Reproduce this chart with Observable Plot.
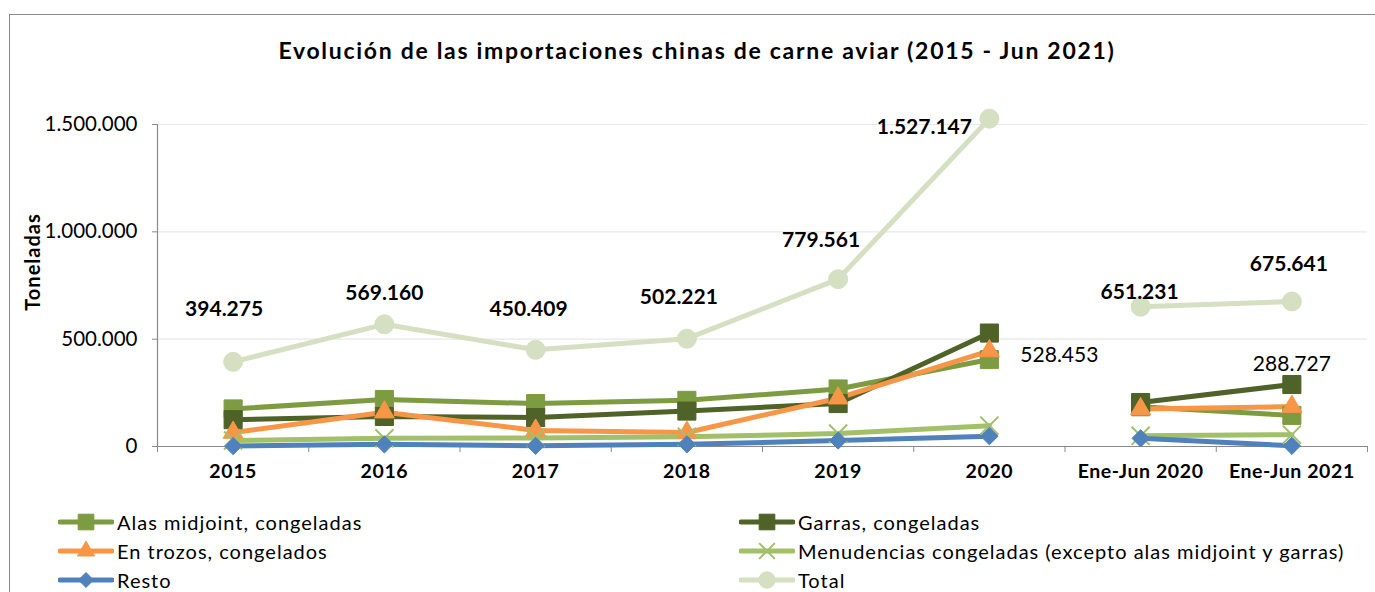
<!DOCTYPE html>
<html><head><meta charset="utf-8">
<script src="https://cdn.jsdelivr.net/npm/d3@7"></script>
<script src="https://cdn.jsdelivr.net/npm/@observablehq/plot@0.6"></script>
<style>
body{margin:0;background:#fff;font-family:Lato,"Open Sans",sans-serif;}
#wrap{position:relative;width:1375px;height:592px;overflow:hidden;background:#fff;}
#frame{position:absolute;left:9px;top:14px;width:1400px;height:620px;border-left:1px solid #8a8a8a;border-top:1px solid #8a8a8a;}
#title{position:absolute;left:0;width:1394px;top:36px;text-align:center;font-weight:bold;font-size:23px;letter-spacing:1.7px;color:#000;}
#ylabel{position:absolute;left:32px;top:262px;transform:translate(-50%,-50%) rotate(-90deg);font-weight:bold;font-size:20px;letter-spacing:1px;white-space:nowrap;}
#chart{position:absolute;left:0;top:90px;}
.leg{position:absolute;display:flex;align-items:center;font-size:20px;letter-spacing:1px;white-space:nowrap;height:24px;}
.leg svg{margin-right:3px;}
g[aria-label="x-axis tick label"]{letter-spacing:0.6px;}
</style></head>
<body>
<div id="wrap">
  <div id="frame"></div>
  <div id="title">Evolución de las importaciones chinas de carne aviar (2015 - Jun 2021)</div>
  <div id="ylabel">Toneladas</div>
  <div id="chart"></div>
  <div id="legend"></div>
</div>
<script>
const categories = ["2015","2016","2017","2018","2019","2020","Ene-Jun 2020","Ene-Jun 2021"];
const periods = ["anual","anual","anual","anual","anual","anual","semestral","semestral"];
const alas = [175000, 219000, 200000, 215000, 268000, 405000, 185000, 145000];
const garras = [125000, 140000, 135000, 165000, 200000, 528453, 205000, 288727];
const trozos = [65000, 160000, 75000, 65000, 225000, 445000, 175000, 186000];
const menudencias = [28000, 38000, 40000, 45000, 60000, 97000, 50000, 55000];
const resto = [2000, 10000, 3000, 10000, 28000, 48000, 38000, 3000];
const total = [394275, 569160, 450409, 502221, 779561, 1527147, 651231, 675641];
const yTicks = [0, 500000, 1000000, 1500000];

const seriesNames = ["Alas midjoint, congeladas","Garras, congeladas","En trozos, congelados","Menudencias congeladas (excepto alas midjoint y garras)","Resto","Total"];
const seriesValues = [alas, garras, trozos, menudencias, resto, total];

const styles = {
  "Alas midjoint, congeladas": {color:"#7d9c42", symbol:"square", r:10.2, fill:true},
  "Garras, congeladas": {color:"#4f6228", symbol:"square", r:10.2, fill:true},
  "En trozos, congelados": {color:"#f79646", symbol:"triangle", r:7.4, fill:true},
  "Menudencias congeladas (excepto alas midjoint y garras)": {color:"#a2c06a", symbol:"times", r:8.3, fill:false},
  "Resto": {color:"#4f81bd", symbol:"diamond2", r:7.8, fill:true},
  "Total": {color:"#d4e0c1", symbol:"circle", r:9.5, fill:true}
};
const legendOrder = [[0,0],[1,1],[2,0],[3,1],[4,0],[5,1]];

const locale = d3.formatLocale({decimal:",", thousands:".", grouping:[3], currency:["",""]});
const fmt = locale.format(",d");

const rows = [];
seriesNames.forEach((s, si) => {
  seriesValues[si].forEach((v, i) => rows.push({series: s, i, cat: categories[i], period: periods[i], value: v}));
});

const totalLabelOffsets = [[-9,-53],[0,-31],[-7,-41],[-8,-41],[-17,-39],[-65,9],[-1,-14],[-3,-37]];
const garrasLabels = [{i:5, dx:70, dy:22}, {i:7, dx:0, dy:-20}];

const marks = [
  Plot.gridY(yTicks, {stroke:"#e8e8e8", strokeOpacity:1, strokeWidth:1.2}),
  Plot.ruleX([-0.5], {stroke:"#8a8a8a", strokeWidth:1.2}),
  Plot.ruleY([0], {stroke:"#8a8a8a", strokeWidth:1.2}),
  Plot.axisY({ticks: yTicks, tickFormat: fmt, tickSize: 5, tickPadding: 15, fontSize: 20.5, stroke:"#8a8a8a", label: null, fill:"#000"}),
  Plot.axisX({ticks: d3.range(9).map(d => d - 0.5), tickSize: 6, tickFormat: () => "", stroke:"#8a8a8a", label: null}),
  Plot.axisX({ticks: d3.range(categories.length), tickSize: 0, tickPadding: 18, tickFormat: i => categories[i], fontSize: 19.5, fontWeight: "bold", label: null, fill:"#000"})
];

seriesNames.forEach((s) => {
  const st = styles[s];
  const data = rows.filter(r => r.series === s);
  marks.push(Plot.line(data, {x:"i", y:"value", z:"period", stroke: st.color, strokeWidth: 5, strokeLinejoin:"round"}));
});
seriesNames.forEach((s) => {
  const st = styles[s];
  const data = rows.filter(r => r.series === s);
  marks.push(Plot.dot(data, {x:"i", y:"value", symbol: st.symbol, r: st.r,
    fill: st.fill ? st.color : "none", stroke: st.color, strokeWidth: st.fill ? 1 : 2}));
});

total.forEach((v, i) => {
  marks.push(Plot.text([{i, value: v}], {x:"i", y:"value", text: d => fmt(d.value), dx: totalLabelOffsets[i][0], dy: totalLabelOffsets[i][1],
    fontSize: 21, fontWeight:"bold", fill:"#000"}));
});
garrasLabels.forEach(g => {
  marks.push(Plot.text([{i: g.i, value: garras[g.i]}], {x:"i", y:"value", text: d => fmt(d.value), dx: g.dx, dy: g.dy, fontSize: 21, fill:"#000"}));
});

const chart = Plot.plot({
  width: 1375, height: 410,
  marginLeft: 157, marginRight: 8, marginTop: 34, marginBottom: 54,
  style: {fontFamily: "Lato, 'Open Sans', sans-serif", background: "transparent", overflow: "visible"},
  x: {type: "linear", domain: [-0.5, 7.5], axis: null},
  y: {domain: [0, 1500000], axis: null},
  marks
});
document.getElementById("chart").appendChild(chart);

// legend
const legend = document.getElementById("legend");
const symMap = {square: d3.symbolSquare, triangle: d3.symbolTriangle, diamond2: d3.symbolDiamond2, times: d3.symbolTimes, circle: d3.symbolCircle};
const rowY = [522, 551, 580];
const colX = [58, 739];
const count = [0,0];
legendOrder.forEach(([si, col]) => {
  const s = seriesNames[si];
  const st = styles[s];
  const row = count[col]++;
  const div = document.createElement("div");
  div.className = "leg";
  div.style.left = colX[col] + "px";
  div.style.top = (rowY[row] - 12) + "px";
  const w = 56;
  const svg = d3.create("svg").attr("width", w).attr("height", 24);
  svg.append("line").attr("x1", 2).attr("x2", w - 2).attr("y1", 12).attr("y2", 12)
    .attr("stroke", st.color).attr("stroke-width", 5).attr("stroke-linecap", "round");
  svg.append("path").attr("transform", `translate(${w/2},12)`)
    .attr("d", d3.symbol(symMap[st.symbol], Math.PI * st.r * st.r * 0.75)())
    .attr("fill", st.fill ? st.color : "none").attr("stroke", st.color).attr("stroke-width", st.fill ? 1 : 2);
  div.appendChild(svg.node());
  const span = document.createElement("span");
  span.textContent = s;
  div.appendChild(span);
  legend.appendChild(div);
});
</script>
</body></html>
